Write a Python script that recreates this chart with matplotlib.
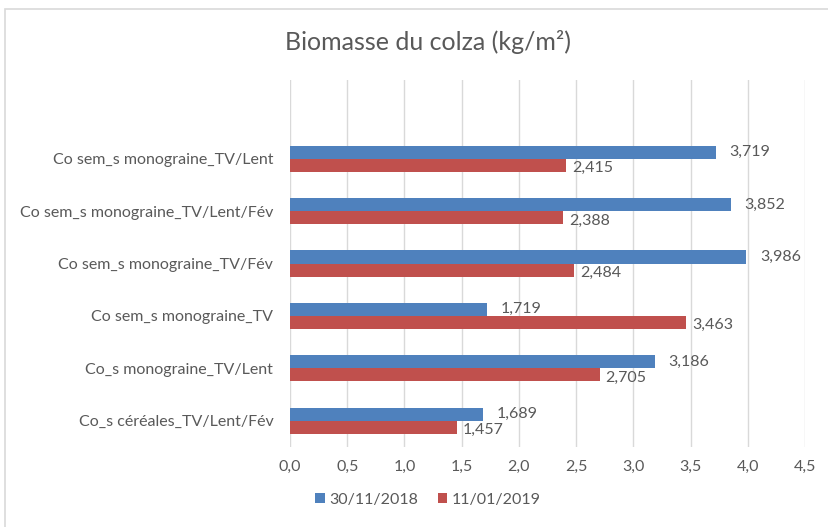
import matplotlib
matplotlib.use("Agg")
import matplotlib.pyplot as plt
from matplotlib.patches import Rectangle
from matplotlib.ticker import FuncFormatter
import numpy as np

plt.rcParams['font.family'] = ['Lato', 'DejaVu Sans']

categories = ["Co_s céréales_TV/Lent/Fév", "Co_s monograine_TV/Lent",
              "Co sem_s monograine_TV", "Co sem_s monograine_TV/Fév",
              "Co sem_s monograine_TV/Lent/Fév", "Co sem_s monograine_TV/Lent"]
series_names = ["30/11/2018", "11/01/2019"]
vals_2018 = [1.689, 3.186, 1.719, 3.986, 3.852, 3.719]
vals_2019 = [1.457, 2.705, 3.463, 2.484, 2.388, 2.415]
xticks = [0, 0.5, 1.0, 1.5, 2.0, 2.5, 3.0, 3.5, 4.0, 4.5]

c_blue = "#4F81BD"
c_red = "#C0504D"
tcol = "#595959"
fs = 11.5

fig = plt.figure(figsize=(8.29, 5.27), dpi=100)
fig.patches.append(Rectangle((5/829, -0.02), 1, 1.02 - 9/527, transform=fig.transFigure,
                             fill=False, edgecolor="#d9d9d9", linewidth=1.2))
ax = fig.add_axes([290/829, 1 - 447/527, 515/829, 367/527])

y = np.arange(len(categories))
h = 0.25
b1 = ax.barh(y + h/2, vals_2018, height=h, color=c_blue, label=series_names[0], zorder=3)
b2 = ax.barh(y - h/2, vals_2019, height=h, color=c_red, label=series_names[1], zorder=3)

fmt = lambda v: f"{v:.3f}".replace(".", ",")
for yy, v in zip(y + h/2, vals_2018):
    ax.annotate(fmt(v), (v, yy), xytext=(10, 0), textcoords="offset points",
                va="center", ha="left", fontsize=fs, color=tcol)
for yy, v in zip(y - h/2, vals_2019):
    ax.annotate(fmt(v), (v, yy), xytext=(4, -2), textcoords="offset points",
                va="center", ha="left", fontsize=fs, color=tcol)

ax.set_xlim(0, 4.5)
ax.set_ylim(-0.5, len(categories) + 0.5)
ax.set_yticks(y)
ax.set_yticklabels(categories, fontsize=fs, color=tcol)
ax.set_xticks(xticks)
ax.xaxis.set_major_formatter(FuncFormatter(lambda v, p: f"{v:.1f}".replace(".", ",")))
ax.tick_params(axis='x', colors=tcol, labelsize=fs, length=0, pad=9)
ax.tick_params(axis='y', length=0, pad=12)
ax.grid(axis='x', color="#d9d9d9", linewidth=1, zorder=0)
for s in ax.spines.values():
    s.set_visible(False)

fig.text(428/829, 1 - 42/527, "Biomasse du colza (kg/m²)", ha="center", va="center",
         fontsize=18, color=tcol)

fig.legend(handles=[b1, b2], labels=series_names, loc="center",
           bbox_to_anchor=(428/829, 1 - 500/527), ncol=2, frameon=False,
           fontsize=fs, labelcolor=tcol, handlelength=0.6, handleheight=0.6,
           handletextpad=0.3, columnspacing=1.2)

fig.savefig("out.png", dpi=100)
